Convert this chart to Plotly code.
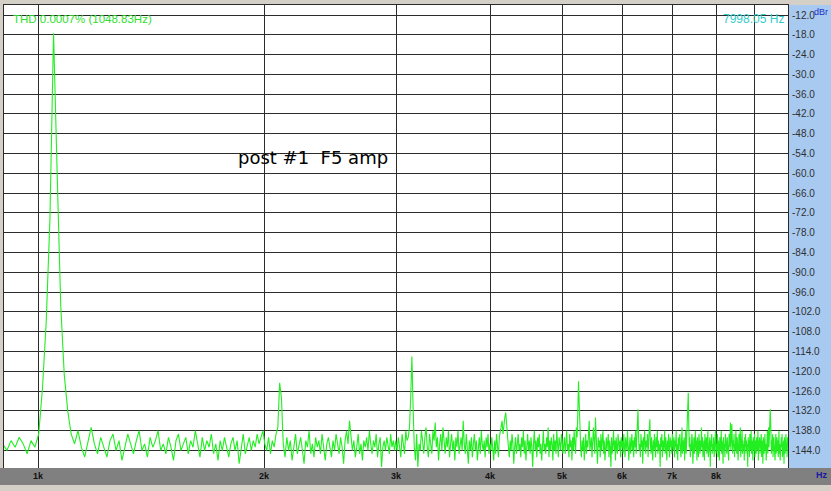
import numpy as np
import plotly.graph_objects as go

# ---------------- data (FFT bins, bin width = fundamental / 90) ----------------
FUND_HZ = 1048.83
BIN_HZ = FUND_HZ / 90.0

NOISE_A = [-142, -144, -141, -143, -140, -142, -145, -141, -143]          # bins 77-85
PEAK = [-139, -125, -105, -74, -17.5, -60, -100, -121, -132, -139]        # bins 86-95
NOISE_B = [                                                               # bins 96-171
    -142, -138, -143, -146, -141, -137, -142, -145, -140, -143,
    -146, -141, -139, -144, -141, -147, -143, -139, -142, -145,
    -141, -138, -144, -142, -146, -140, -143, -141, -138, -144,
    -142, -145, -140, -143, -147, -141, -139, -144, -142, -140,
    -145, -141, -143, -138, -142, -146, -140, -144, -141, -143,
    -139, -145, -142, -147, -141, -144, -140, -143, -146, -142,
    -140, -144, -141, -148, -143, -139, -145, -142, -140, -144,
    -141, -143, -139, -142, -140, -138]
NOISE_C = [                                                               # bins 172-256
    -142, -144, -140, -145, -141, -143, -139, -137, -123.5, -128,
    -142, -146, -140, -144, -141, -147, -143, -139, -145, -142,
    -140, -144, -148, -141, -143, -138, -145, -142, -146, -140,
    -143, -141, -145, -139, -144, -147, -142, -140, -143, -146,
    -141, -144, -139, -142, -145, -140, -143, -148, -141, -138,
    -142, -135, -140, -144, -141, -146, -143, -139, -145, -142,
    -147, -141, -143, -140, -144, -138, -142, -145, -141, -143,
    -139, -146, -142, -140, -149, -143, -141, -144, -140, -142,
    -145, -139, -143, -141, -144]
NOISE_D = [                                                               # bins 257-343
    -141, -144, -140, -143, -146, -139, -142, -145, -138, -141,
    -140, -137, -128, -115.5, -131, -143, -147, -139, -149, -142,
    -144, -138, -141, -145, -140, -137, -143, -146, -139, -142,
    -145, -138, -141, -135.5, -143, -140, -147, -142, -139, -144,
    -137, -141, -145, -140, -143, -138, -146, -142, -139, -144,
    -141, -147, -140, -143, -138, -145, -142, -140, -144, -135,
    -142, -145, -139, -143, -148, -141, -144, -140, -146, -142,
    -139, -144, -141, -147, -143, -140, -145, -138, -142, -144,
    -141, -146, -140, -143, -139, -145, -142]
NOISE_E = [                                                               # bins 344-429
    -144, -140, -143, -147, -141, -145, -139, -142, -146, -140,
    -138, -137, -135, -139, -136, -134, -132.5, -137, -140, -143,
    -146, -141, -144, -139, -142, -148, -143, -140, -145, -141,
    -139, -144, -142, -146, -140, -143, -138, -145, -141, -147,
    -142, -139, -144, -141, -145, -140, -143, -149, -142, -138,
    -144, -141, -146, -140, -143, -139, -145, -142, -147, -141,
    -138, -144, -142, -145, -140, -143, -137, -146, -141, -144,
    -140, -142, -147, -139, -144, -141, -145, -138, -143, -146,
    -140, -142, -144, -139, -141, -145]
NOISE_F = [                                                               # bins 430-514
    -143, -140, -145, -141, -138, -144, -142, -146, -139, -143,
    -141, -147, -140, -144, -138, -142, -145, -137, -140, -133,
    -123, -130, -139, -143, -146, -141, -144, -140, -147, -142,
    -139, -145, -141, -143, -138, -135, -144, -142, -140, -146,
    -143, -137, -141, -145, -134, -142, -144, -148, -140, -143,
    -141, -146, -139, -144, -142, -138, -145, -141, -147, -143,
    -140, -144, -142, -139, -146, -141, -143, -149, -140, -145,
    -142, -138, -144, -141, -147, -140, -143, -145, -139, -142,
    -144, -141, -146, -140, -143]
NOISE_G = [                                                               # bins 515-600
    -141, -145, -139, -143, -146, -140, -142, -144, -138, -141,
    -147, -143, -140, -145, -142, -139, -144, -141, -146, -140,
    -143, -138, -145, -141, -137, -131.5, -140, -144, -142, -146,
    -139, -143, -141, -148, -140, -144, -138, -142, -145, -141,
    -143, -139, -146, -141, -137, -134.5, -142, -145, -140, -143,
    -147, -141, -144, -139, -142, -146, -140, -143, -138, -145,
    -141, -144, -142, -149, -140, -143, -139, -146, -141, -144,
    -142, -138, -145, -140, -143, -147, -141, -144, -139, -142,
    -146, -140, -143, -141, -145, -139]
NOISE_H = [                                                               # bins 601-686
    -142, -144, -140, -146, -141, -143, -138, -145, -142, -147,
    -140, -144, -141, -139, -143, -146, -142, -137, -145, -141,
    -144, -140, -147, -142, -138, -145, -141, -139, -135, -126.5,
    -136, -143, -140, -146, -142, -144, -139, -141, -148, -143,
    -140, -145, -142, -138, -144, -141, -147, -140, -143, -146,
    -139, -142, -145, -141, -144, -137, -143, -140, -146, -142,
    -141, -147, -139, -144, -142, -140, -145, -143, -138, -146,
    -142, -144, -140, -149, -141, -143, -139, -145, -142, -144,
    -140, -146, -141, -143, -138, -145]
NOISE_I = [                                                               # bins 687-858
    -142, -144, -139, -146, -141, -143, -147, -140, -144, -142,
    -138, -145, -141, -143, -148, -140, -144, -142, -146, -139,
    -143, -141, -145, -140, -144, -142, -147, -139, -143, -141,
    -135.5, -144, -140, -136, -142, -145, -141, -143, -139, -146,
    -142, -144, -138, -141, -145, -140, -143, -147, -141, -139,
    -144, -142, -137, -146, -140, -143, -138, -145, -141, -144,
    -142, -147, -140, -143, -139, -145, -141, -144, -142, -149,
    -140, -143, -141, -146, -139, -144, -142, -138, -145, -141,
    -143, -147, -140, -144, -142, -139, -146, -141, -143, -145,
    -140, -142, -144, -138, -147, -141, -143, -140, -145, -142,
    -144, -139, -146, -141, -143, -148, -140, -142, -145, -141,
    -139, -144, -142, -147, -140, -143, -138, -145, -141, -137,
    -143, -140, -138, -131.5, -135, -142, -145, -141, -144, -139,
    -146, -142, -140, -144, -141, -147, -143, -139, -145, -142,
    -140, -144, -141, -146, -143, -138, -145, -142, -147, -141,
    -144, -140, -143, -139, -146, -142, -144, -141, -148, -140,
    -143, -145, -141, -139, -144, -142, -146, -140, -143, -141,
    -144, -142]

SEGMENTS = [(77, NOISE_A), (86, PEAK), (96, NOISE_B), (172, NOISE_C),
            (257, NOISE_D), (344, NOISE_E), (430, NOISE_F), (515, NOISE_G),
            (601, NOISE_H), (687, NOISE_I)]

X_TICKS = [1000, 2000, 3000, 4000, 5000, 6000, 7000, 8000, 9000]
X_TICK_LABELS = ["1k", "2k", "3k", "4k", "5k", "6k", "7k", "8k", ""]
Y_TICKS = [-12.0 - 6.0 * i for i in range(23)]   # -12 ... -144
Y_TICK_LABELS = [f"{v:.1f}" for v in Y_TICKS]

# ---------------- build series ----------------
freqs, levels = [], []
for start, vals in SEGMENTS:
    for i, v in enumerate(vals):
        freqs.append((start + i) * BIN_HZ)
        levels.append(v)
order = np.argsort(freqs)
freqs = np.array(freqs)[order]
levels = np.array(levels)[order]

W, H = 831, 491
ML, MR, MT, MB = 4, 43, 5, 23
PW, PH = W - ML - MR, H - MT - MB

def px(xpix):
    return (xpix - ML) / PW

def py(ypix):
    return (H - MB - ypix) / PH

fig = go.Figure()
fig.add_trace(go.Scatter(x=freqs, y=levels, mode="lines",
                         line=dict(color="#22ee22", width=1.1),
                         hoverinfo="skip", showlegend=False))

FONT = "Liberation Sans, Arial, sans-serif"
GRID = "#2b2b2b"

fig.update_layout(
    width=W, height=H,
    margin=dict(l=ML, r=MR, t=MT, b=MB, pad=0),
    paper_bgcolor="#d4d0c8",
    plot_bgcolor="#ffffff",
    xaxis=dict(type="log", range=[np.log10(901), np.log10(9968)],
               tickvals=X_TICKS, showticklabels=False, ticks="",
               showgrid=True, gridcolor=GRID, gridwidth=1, zeroline=False,
               showline=True, linecolor=GRID, linewidth=1, mirror=True),
    yaxis=dict(range=[-149.3, -8.97], side="right", automargin=False,
               tickvals=Y_TICKS, ticktext=Y_TICK_LABELS, ticks="",
               tickfont=dict(family=FONT, size=10, color="#303030"),
               ticklabelstandoff=1,
               showgrid=True, gridcolor=GRID, gridwidth=1, zeroline=False,
               showline=True, linecolor=GRID, linewidth=1, mirror=True),
    shapes=[
        dict(type="rect", xref="paper", yref="paper", x0=1, x1=px(W), y0=0, y1=1,
             fillcolor="#a8caf0", line=dict(width=0), layer="below"),
        dict(type="rect", xref="paper", yref="paper", x0=px(0), x1=px(W),
             y0=py(485), y1=py(468), fillcolor="#808080", line=dict(width=0),
             layer="above"),
    ],
)

ann = []
for f, lab in zip(X_TICKS, X_TICK_LABELS):
    if lab:
        ann.append(dict(x=np.log10(f), xref="x", y=py(476), yref="paper",
                        text=f"<b>{lab}</b>", showarrow=False,
                        font=dict(family=FONT, size=9, color="#111111"),
                        xanchor="center", yanchor="middle"))
ann += [
    dict(x=px(822), y=py(475), xref="paper", yref="paper", text="<b>Hz</b>",
         showarrow=False, font=dict(family=FONT, size=9, color="#1a1aa0"),
         xanchor="center", yanchor="middle"),
    dict(x=px(11), y=py(19), xref="paper", yref="paper",
         text="THD 0.0007% (1048.83Hz)", showarrow=False,
         font=dict(family=FONT, size=11.5, color="#2ee02e"),
         xanchor="left", yanchor="middle"),
    dict(x=px(786), y=py(19), xref="paper", yref="paper",
         text="7998.05 Hz", showarrow=False,
         font=dict(family=FONT, size=12, color="#33cccc"),
         xanchor="right", yanchor="middle"),
    dict(x=px(812), y=py(12), xref="paper", yref="paper",
         text="dBr", showarrow=False,
         font=dict(family=FONT, size=9, color="#2030c0"),
         xanchor="left", yanchor="middle"),
    dict(x=px(236), y=py(157), xref="paper", yref="paper",
         text="post #1 \u00a0F5 amp", showarrow=False,
         font=dict(family="DejaVu Sans, sans-serif", size=18, color="#000000"),
         xanchor="left", yanchor="middle"),
]
fig.update_layout(annotations=ann)

fig.write_html("out.html",
               config={"displayModeBar": False},
               post_script="document.body.style.margin='0';"
                           "document.body.style.overflow='hidden';")
